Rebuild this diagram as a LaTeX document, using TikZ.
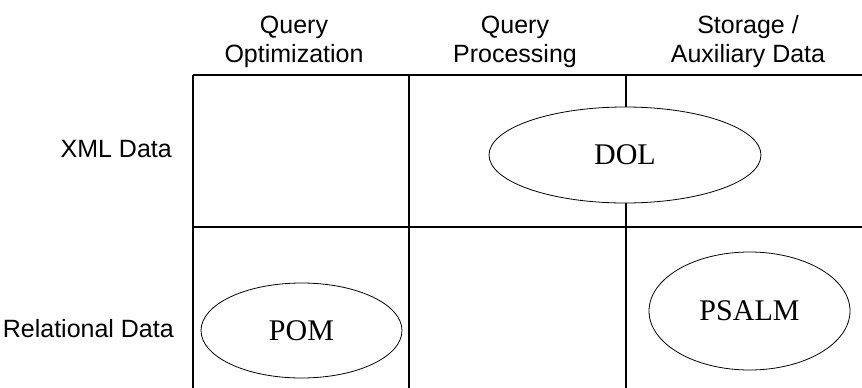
\documentclass[tikz,border=0pt]{standalone}
\usepackage{fontspec}
\setmainfont{Liberation Serif}
\newfontfamily\hdfont{Liberation Sans}
\usetikzlibrary{shapes.geometric}
\begin{document}
\begin{tikzpicture}[x=1pt,y=-1pt,
  gridline/.style={line width=1.2pt, black},
  hdr/.style={font=\hdfont\fontsize{25}{29}\selectfont, align=center, anchor=base, inner sep=0pt},
  rowlbl/.style={font=\hdfont\fontsize{25}{29}\selectfont, anchor=base east, inner sep=0pt},
  oval/.style={ellipse, draw, line width=0.8pt, fill=white, inner sep=0pt, font=\fontsize{30}{34}\selectfont}]
\useasboundingbox (0,0) rectangle (862,388);
% grid
\draw[gridline] (193,75) -- (862,75);
\draw[gridline] (193,227) -- (862,227);
\draw[gridline] (193,75) -- (193,388);
\draw[gridline] (409,75) -- (409,388);
\draw[gridline] (626,75) -- (626,388);
% headers
\node[hdr] (h1) at (294,62) {Query\\Optimization};
\node[hdr] (h2) at (515,62) {Query\\Processing};
\node[hdr] (h3) at (748,62) {Storage /\\Auxiliary Data};
% row labels
\node[rowlbl] (r1) at (172,157) {XML Data};
\node[rowlbl] (r2) at (174,337) {Relational Data};
% ovals
\node[oval, minimum width=272pt, minimum height=96pt] (dol) at (625,155) {DOL};
\node[oval, minimum width=201pt, minimum height=95pt] (pom) at (301.5,330.5) {POM};
\node[oval, minimum width=201pt, minimum height=118pt] (psalm) at (749.5,311) {PSALM};
\end{tikzpicture}
\end{document}
